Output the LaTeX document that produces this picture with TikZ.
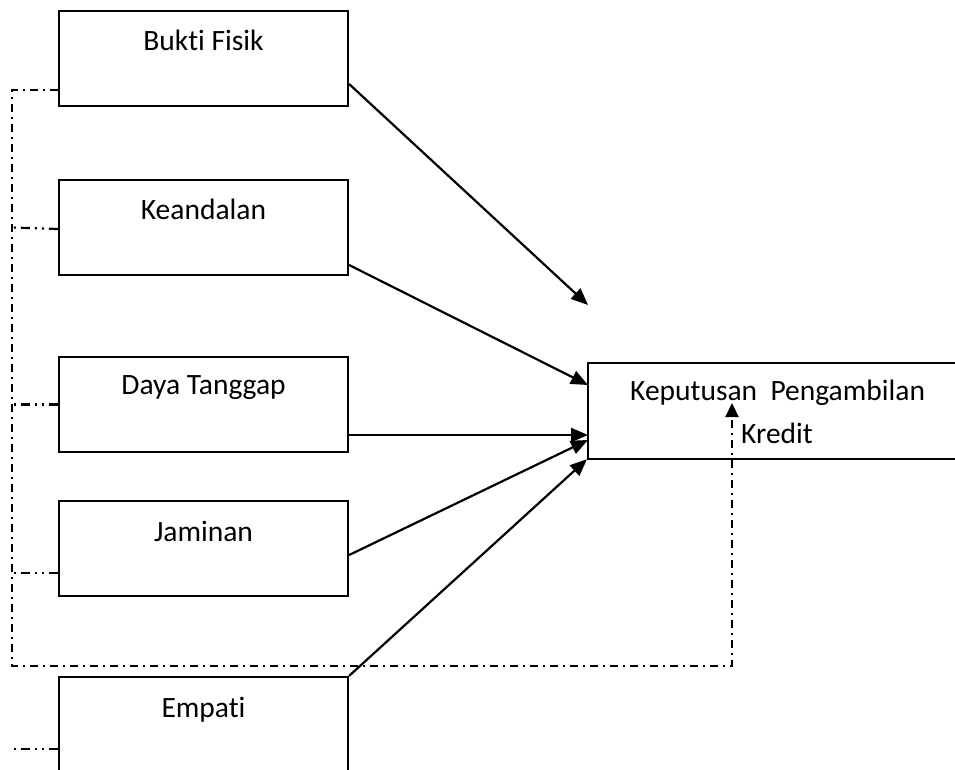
\documentclass[tikz,border=0pt]{standalone}
\usepackage{fontspec}
\setmainfont{Carlito}[Ligatures={NoCommon}]
\usetikzlibrary{arrows.meta}
\begin{document}
\begin{tikzpicture}[x=1pt,y=-1pt,
  box/.style={draw,line width=2.2pt,minimum width=289pt,minimum height=95pt,inner sep=0pt},
  lbl/.style={font=\fontsize{29.5}{34}\selectfont,inner sep=0pt,anchor=base},
  arr/.style={line width=2.2pt,-{Triangle[length=17pt,width=14pt]}},
  dd/.style={line width=2.2pt,dash pattern=on 8pt off 5pt on 2pt off 5pt},
  ddd/.style={line width=2.2pt,dash pattern=on 9pt off 5pt on 2pt off 5pt on 2pt off 5pt}]
\useasboundingbox (0,0) rectangle (955,769);
\node[box] (b1) at (203.5,58.5) {};
\node[box] (b2) at (203.5,227.5) {};
\node[box] (b3) at (203.5,404.5) {};
\node[box] (b4) at (203.5,548.5) {};
\node[box] (b5) at (203.5,724.5) {};
\node[lbl] (t1) at (203.5,50) {Bukt\kern0pt i Fisik};
\node[lbl] (t2) at (203.5,219) {Keandalan};
\node[lbl] (t3) at (203.5,394) {Daya Tanggap};
\node[lbl] (t4) at (203.5,541) {Jaminan};
\node[lbl] (t5) at (203.5,717) {Empat\kern0pt i};
% outcome box (open to the right)
\node[minimum width=420pt,minimum height=96pt,inner sep=0pt,anchor=west] (kp) at (588,411) {};
\draw[line width=2.2pt] (kp.north east) -- (kp.north west) -- (kp.south west) -- (kp.south east);
\node[lbl,anchor=base west] (k1) at (630,400) {Keputusan\ \ Pengambilan};
\node[lbl,anchor=base west] (k2) at (741,443) {Kredit};
\coordinate (e1) at (588,305);
\coordinate (up) at (732,403);
\coordinate (c1) at (12,90);
\coordinate (c2) at (12,666);
\coordinate (c3) at (732,666);
% arrows
\draw[arr] ([yshift=-25.5pt]b1.east) -- (e1);
\draw[arr] ([yshift=-37.5pt]b2.east) -- ([yshift=26pt]kp.west);
\draw[arr] ([yshift=-30.5pt]b3.east) -- ([yshift=-24pt]kp.west);
\draw[arr] ([yshift=-6.5pt]b4.east) -- ([yshift=-29pt]kp.west);
\draw[arr] (b5.north east) -- ([xshift=-1pt]kp.south west);
% dash-dot loop
\draw[dd,-{Triangle[length=14pt,width=13pt]}] ([yshift=-31.5pt]b1.west) -- (c1) -- (c2) -- (c3) -- (up);
\draw[ddd] ([yshift=-1.5pt]b2.west) -- (b2.west -| c1);
\draw[ddd] (b3.west) -- (b3.west -| c1);
\draw[ddd] ([yshift=-24.5pt]b4.west) -- ([yshift=-24.5pt]b4.west -| c1);
\draw[ddd] ([yshift=-24.5pt]b5.west) -- ([yshift=-24.5pt,xshift=-2pt]b5.west -| c1);
\end{tikzpicture}
\end{document}
